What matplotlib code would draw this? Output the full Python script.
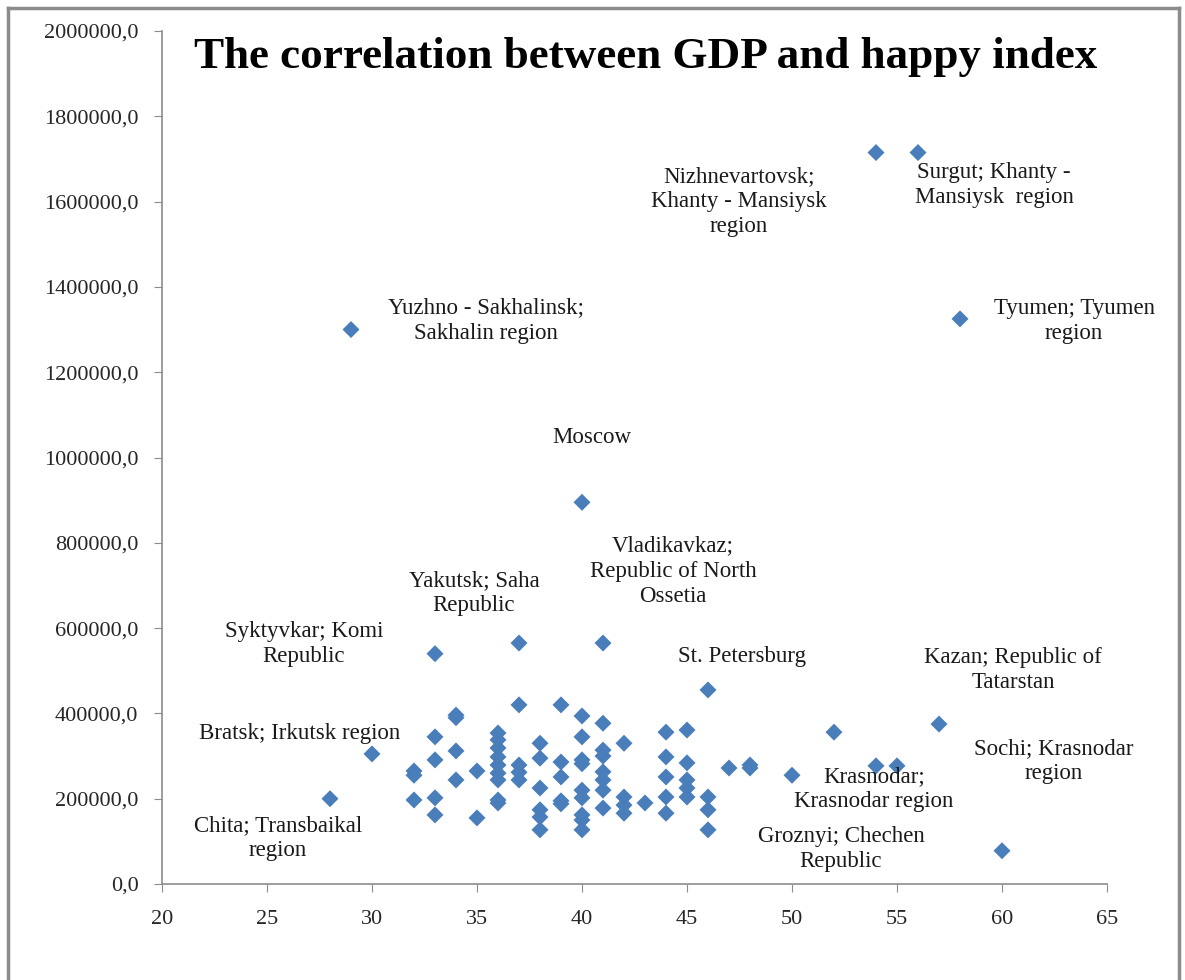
import matplotlib.pyplot as plt
from matplotlib.lines import Line2D
from matplotlib.ticker import FuncFormatter, MultipleLocator

plt.rcParams['font.family'] = ['Liberation Serif', 'DejaVu Serif']

# happy index (x) and GDP (y) for every city
happy_index = [
    28, 29, 30,
    32, 32, 32,
    33, 33, 33, 33, 33,
    34, 34, 34, 34,
    35, 35,
    36, 36, 36, 36, 36, 36, 36, 36, 36,
    37, 37, 37, 37, 37,
    38, 38, 38, 38, 38, 38,
    39, 39, 39, 39, 39,
    40, 40, 40, 40, 40, 40, 40, 40, 40, 40,
    41, 41, 41, 41, 41, 41, 41, 41,
    42, 42, 42, 42,
    43,
    44, 44, 44, 44, 44,
    45, 45, 45, 45, 45,
    46, 46, 46, 46,
    47, 48, 48, 50, 52,
    54, 54, 55, 56, 57, 58, 60,
]
gdp = [
    200000, 1300000, 305000,
    265000, 255000, 197000,
    540000, 345000, 291000, 202000, 162000,
    396000, 390000, 312000, 244000,
    265000, 155000,
    354000, 338000, 319000, 298000, 279000, 260000, 244000, 197000, 190000,
    565000, 420000, 279000, 262000, 244000,
    330000, 295000, 225000, 174000, 157000, 127000,
    420000, 286000, 251000, 195000, 188000,
    895000, 394000, 345000, 291000, 282000, 220000, 202000, 162000, 150000, 127000,
    565000, 377000, 314000, 300000, 263000, 244000, 220000, 178000,
    330000, 204000, 185000, 166000,
    190000,
    356000, 298000, 251000, 204000, 166000,
    361000, 284000, 244000, 225000, 204000,
    455000, 204000, 174000, 127000,
    272000, 279000, 272000, 255000, 356000,
    1715000, 277000, 277000, 1715000, 375000, 1325000, 78000,
]

# named cities
city_names = [
    'Yuzhno - Sakhalinsk;\nSakhalin region',
    'Nizhnevartovsk;\nKhanty - Mansiysk\nregion',
    'Surgut; Khanty -\nMansiysk  region',
    'Tyumen; Tyumen\nregion',
    'Moscow',
    'Vladikavkaz;\nRepublic of North\nOssetia',
    'Yakutsk; Saha\nRepublic',
    'Syktyvkar; Komi\nRepublic',
    'St. Petersburg',
    'Kazan; Republic of\nTatarstan',
    'Bratsk; Irkutsk region',
    'Chita; Transbaikal\nregion',
    'Sochi; Krasnodar\nregion',
    'Krasnodar;\nKrasnodar region',
    'Groznyi; Chechen\nRepublic',
]
city_index = [29, 54, 56, 58, 40, 41, 37, 33, 46, 57, 30, 28, 60, 55, 50]
city_gdp = [1300000, 1715000, 1715000, 1325000, 895000, 565000, 565000, 540000,
            455000, 375000, 305000, 200000, 78000, 277000, 255000]

# label offsets from the point, in pixels
label_dx = [135, -137, 76, 114, 10, 70, -45, -131, 34, 74, -72, -52, 52, -23, 49]
label_dy = [9, -49, -32, -2, 65, 72, 50, 10, 33, 54, 20, -39, 90, -23, -74]

W, H = 1185, 980
fig = plt.figure(figsize=(W / 100, H / 100), dpi=100)
ax = fig.add_axes([162 / W, 1 - 884 / H, (1107 - 162) / W, (884 - 31) / H])

ax.scatter(happy_index, gdp, marker='D', s=75, color='#4A7EBB',
           edgecolors='none', zorder=3)

for name, x, y, dx, dy in zip(city_names, city_index, city_gdp, label_dx, label_dy):
    ax.annotate(name, xy=(x, y), xytext=(dx, dy), textcoords='offset pixels',
                ha='center', va='center', fontsize=16.5, color='#1a1a1a',
                linespacing=1.25)

ax.set_xlim(20, 65)
ax.set_ylim(0, 2000000)
ax.xaxis.set_major_locator(MultipleLocator(5))
ax.yaxis.set_major_locator(MultipleLocator(200000))
ax.yaxis.set_major_formatter(FuncFormatter(lambda v, p: f'{v:.1f}'.replace('.', ',')))

for side in ('top', 'right'):
    ax.spines[side].set_visible(False)
for side in ('left', 'bottom'):
    ax.spines[side].set_color('#8c8c8c')
    ax.spines[side].set_linewidth(1.2)

ax.tick_params(axis='both', direction='out', length=6, color='#8c8c8c',
               labelsize=16, labelcolor='#262626')
ax.tick_params(axis='x', pad=13)
ax.tick_params(axis='y', pad=11)

fig.text(646 / W, 1 - 57 / H, 'The correlation between GDP and happy index',
         ha='center', va='center', fontsize=32.5, fontweight='bold', color='black')

# outer chart frame
frame = dict(color='#8c8c8c', linewidth=2.5, transform=fig.transFigure)
fig.add_artist(Line2D([8 / W, 8 / W], [0, 1 - 8 / H], **frame))
fig.add_artist(Line2D([8 / W, 1179 / W], [1 - 8 / H, 1 - 8 / H], **frame))
fig.add_artist(Line2D([1179 / W, 1179 / W], [0, 1 - 8 / H], **frame))

fig.savefig('out.png', dpi=100)
